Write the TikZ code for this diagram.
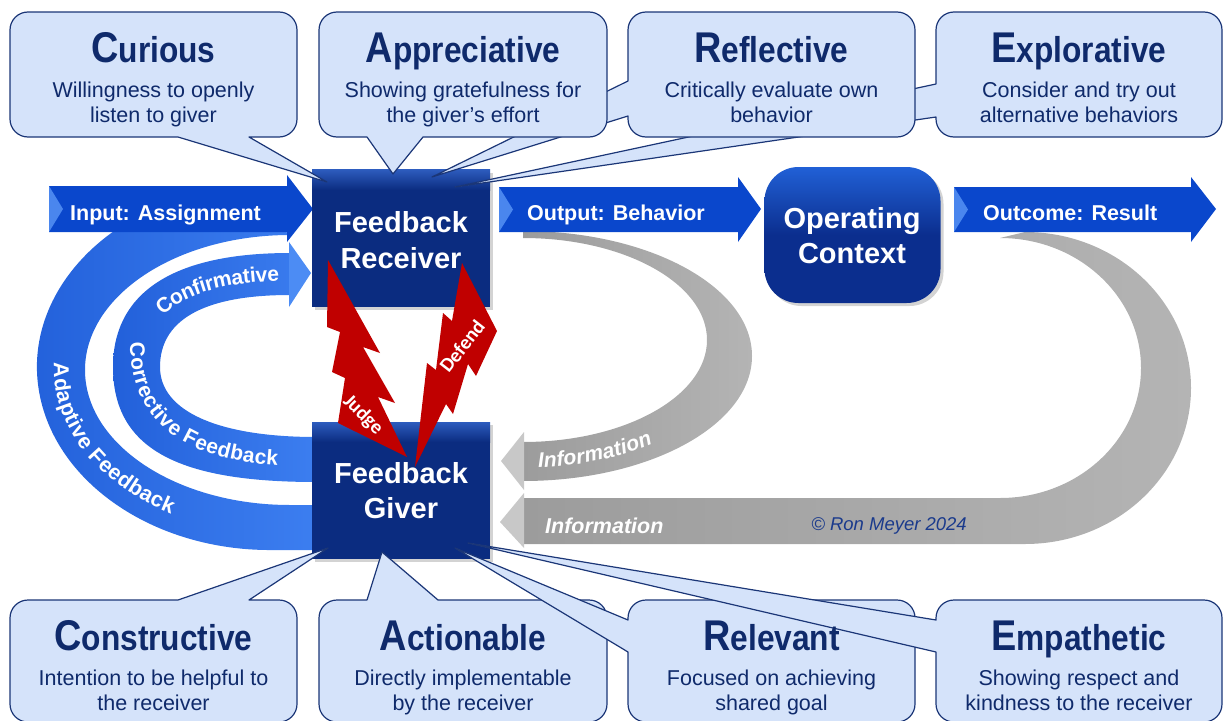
\documentclass[tikz,border=0pt]{standalone}
\usepackage{fontspec}
\setmainfont{Liberation Sans}
\newfontfamily\headfont[FakeStretch=0.88]{Liberation Sans}
\newfontfamily\boltfont{Carlito}
\usetikzlibrary{decorations.text,shadows}

\definecolor{boxnavy}{HTML}{0B2C80}
\definecolor{boxrim}{HTML}{2D5CBE}
\definecolor{ctxtop}{HTML}{2160D6}
\definecolor{ctxmid}{HTML}{0B2E8E}
\definecolor{calfill}{HTML}{D5E3FA}
\definecolor{calline}{HTML}{1B3677}
\definecolor{caltext}{HTML}{0F2A6B}
\definecolor{arrowblue}{HTML}{0A47CC}
\definecolor{arrowbevel}{HTML}{4A86EE}
\definecolor{banddark}{HTML}{2260DA}
\definecolor{bandlight}{HTML}{3C7EF0}
\definecolor{bandhead}{HTML}{4C8CF4}
\definecolor{boltred}{HTML}{C00000}
\definecolor{graydark}{HTML}{9C9C9C}
\definecolor{graylight}{HTML}{B4B4B4}
\definecolor{headgray}{HTML}{C8C8C8}
\definecolor{copyblue}{HTML}{1A3A8C}

% large initial followed by the rest of the word
\newcommand\heading[2]{{\headfont\bfseries\fontsize{43}{43}\selectfont #1\fontsize{36}{36}\selectfont #2}}

% rounded callout: #1 left, #2 top, #3 right, #4 bottom;
% #5 tail on the top edge, #6 tail on the bottom edge, #7 tail on the left edge
\newcommand\callbox[7]{%
  \path[callout] ({#1+18},#2) #5 -- ({#3-18},#2)
    arc[start angle=-90,end angle=0,radius=18] -- (#3,{#4-18})
    arc[start angle=0,end angle=90,radius=18] #6 -- ({#1+18},#4)
    arc[start angle=90,end angle=180,radius=18] #7 -- (#1,{#2+18})
    arc[start angle=180,end angle=270,radius=18] -- cycle;}

\begin{document}
\begin{tikzpicture}[x=1pt,y=-1pt,
  callout/.style={fill=calfill,draw=calline,line width=1.2pt,line join=round},
  headtxt/.style={text=caltext,anchor=base,inner sep=0pt},
  bodytxt/.style={text=caltext,anchor=base,inner sep=0pt,font=\fontsize{21.5}{21.5}\selectfont},
  arrowtxt/.style={text=white,anchor=base west,inner sep=0pt,font=\bfseries\fontsize{21.5}{21.5}\selectfont},
  boxtxt/.style={text=white,anchor=base,inner sep=0pt,font=\bfseries\fontsize{29}{29}\selectfont},
  fbbox/.style={fill=boxnavy,minimum width=178pt,minimum height=137pt,inner sep=0pt,
     drop shadow={shadow xshift=3pt,shadow yshift=-3pt,opacity=0.35}},
  ctxbox/.style={top color=ctxtop,bottom color=ctxmid,middle color=ctxmid,rounded corners=34pt,
     minimum width=176pt,minimum height=136pt,inner sep=0pt,
     drop shadow={shadow xshift=3pt,shadow yshift=-3pt,opacity=0.35}},
  bluearrow/.style={fill=arrowblue},
  bevel/.style={fill=arrowbevel},
  band/.style={left color=banddark,right color=bandlight},
  grayband/.style={left color=graydark,right color=graylight},
  grayhead/.style={fill=headgray},
  bolt/.style={fill=boltred},
  bolttxt/.style={text=white,inner sep=0pt,font=\boltfont\bfseries\fontsize{20}{20}\selectfont},
  infotxt/.style={text=white,inner sep=0pt,font=\bfseries\itshape\fontsize{21.5}{21.5}\selectfont},
]
\useasboundingbox (0,0) rectangle (1223,720);

% ---- feedback loops on the left
\path[band] (229.5,186.8) arc[start angle=260,end angle=90,x radius=233,y radius=183]
  -- (318,550) -- (318,505) -- (290,505)
  arc[start angle=90,end angle=270,x radius=205,y radius=135] -- cycle;
\path[band] (290,253) .. controls (165,253) and (113,298) .. (113,367)
  .. controls (113,450) and (180,482) .. (316,482) -- (316,437)
  .. controls (220,437) and (160,412) .. (160,367)
  .. controls (160,322) and (200,295) .. (290,295) -- cycle;
\path[fill=bandhead] (289,242) -- (311,273) -- (289,307) -- cycle;

% ---- information loops on the right
\path[grayband] (523,231) arc[start angle=270,end angle=450,x radius=229,y radius=125]
  -- (523,442) arc[start angle=90,end angle=-90,x radius=184,y radius=102] -- cycle;
\path[grayhead] (524,432) -- (501,461) -- (524,490) -- cycle;
\path[grayband] (1025,232) arc[start angle=270,end angle=450,x radius=166,y radius=156]
  -- (523,544) -- (523,498) -- (1000,498)
  arc[start angle=90,end angle=-90,x radius=141,y radius=130] -- cycle;
\path[grayhead] (524,493) -- (500,522) -- (524,548) -- cycle;

% ---- main flow arrows
\path[bluearrow] (49,186) -- (287,186) -- (287,175) -- (313,209) -- (287,242) -- (287,232) -- (49,232) -- cycle;
\path[bevel] (49,186) -- (63,209) -- (49,232) -- cycle;
\path[bluearrow] (499,187) -- (738,187) -- (738,177) -- (761,209) -- (738,242) -- (738,232) -- (499,232) -- cycle;
\path[bevel] (499,187) -- (513,209.5) -- (499,232) -- cycle;
\path[bluearrow] (954,187) -- (1191,187) -- (1191,177) -- (1216,209) -- (1191,242) -- (1191,232) -- (954,232) -- cycle;
\path[bevel] (954,187) -- (968,209.5) -- (954,232) -- cycle;

\node[arrowtxt] (inlbl) at (70,220) {Input: Assignment};
\node[arrowtxt] (outlbl) at (527,220) {Output: Behavior};
\node[arrowtxt] (reslbl) at (983,220) {Outcome: Result};

% ---- boxes
\node[fbbox] (receiver) at (401,238) {};
\fill[top color=boxrim,bottom color=boxnavy] (312,169.5) rectangle (490,190);
\node[fbbox] (giver) at (401,490.5) {};
\fill[top color=boxrim,bottom color=boxnavy] (312,422) rectangle (490,442);
\node[ctxbox] (context) at (852.5,235) {};

\node[boxtxt] (recvA) at (401,232) {Feedback};
\node[boxtxt] (recvB) at (401,268) {Receiver};
\node[boxtxt] (giverA) at (401,483) {Feedback};
\node[boxtxt] (giverB) at (401,518) {Giver};
\node[boxtxt] (ctxA) at (852,228) {Operating};
\node[boxtxt] (ctxB) at (852,263) {Context};

% ---- texts on the loops
\path[decorate,decoration={text along path,
    text={|\bfseries\fontsize{21.5}{21.5}\selectfont|Adaptive Feedback},
    text color=white,text align={left indent=8pt},raise=-7pt}]
  (61.8,354.6) arc[start angle=185,end angle=100,x radius=219,y radius=159];
\path[decorate,decoration={text along path,
    text={|\bfseries\fontsize{21}{21}\selectfont|Confirmative},
    text color=white,text align={right,right indent=11pt},raise=-7pt}]
  (136.5,367) .. controls (136.5,307.5) and (185,274) .. (290,274);
\path[decorate,decoration={text along path,
    text={|\bfseries\fontsize{21}{21}\selectfont|Corrective Feedback},
    text color=white,text align={left indent=4pt},raise=-7pt}]
  (137,338) .. controls (135,425) and (195,459.5) .. (312,459.5);
\path[decorate,decoration={text along path,
    text={|\bfseries\itshape\fontsize{21}{21}\selectfont|Information},
    text color=white,text align={left indent=33pt},raise=-7pt}]
  (505,460.6) arc[start angle=95,end angle=40,x radius=206.5,y radius=113.5];
\node[infotxt,anchor=base west] (info) at (545,533) {Information};
\node[anchor=base east,inner sep=0pt,text=copyblue,font=\itshape\fontsize{18.5}{18.5}\selectfont] (copy) at (967,530) {© Ron Meyer 2024};

% ---- judge / defend bolts
\path[bolt] (328,260) -- (380,353) -- (363,347) -- (395,403) -- (378,397) -- (407,457)
  -- (338,423) -- (345,378) -- (332,372) -- (340,332) -- (327,327) -- cycle;
\path[bolt] (462,263) -- (497,331) -- (476,376) -- (468,364) -- (453,414) -- (446,404)
  -- (415,467) -- (427,363) -- (436,370) -- (443,313) -- (452,321) -- cycle;
\node[bolttxt,rotate=-45] (judge) at (363,415) {Judge};
\node[bolttxt,rotate=52] (defend) at (462,346) {Defend};

% ---- callouts above (drawn right to left)
\callbox{936}{12}{1222}{137}{}{}{-- (936,117) -- (455,187) -- (936,84)}
\callbox{628}{12}{915}{137}{}{}{-- (628,116) -- (432,177) -- (628,81)}
\callbox{319}{12}{607}{137}{}{-- (423,137) -- (393,174) -- (367,137)}{}
\callbox{10}{12}{297}{137}{}{-- (249,137) -- (327,182) -- (178,137)}{}

\node[headtxt] (curH) at (153.5,62) {\heading{C}{urious}};
\node[bodytxt] (curA) at (153.5,97) {Willingness to openly};
\node[bodytxt] (curB) at (153.5,122) {listen to giver};
\node[headtxt] (appH) at (463,62) {\heading{A}{ppreciative}};
\node[bodytxt] (appA) at (463,97) {Showing gratefulness for};
\node[bodytxt] (appB) at (463,122) {the giver’s effort};
\node[headtxt] (refH) at (771.5,62) {\heading{R}{eflective}};
\node[bodytxt] (refA) at (771.5,97) {Critically evaluate own};
\node[bodytxt] (refB) at (771.5,122) {behavior};
\node[headtxt] (expH) at (1079,62) {\heading{E}{xplorative}};
\node[bodytxt] (expA) at (1079,97) {Consider and try out};
\node[bodytxt] (expB) at (1079,122) {alternative behaviors};

% ---- callouts below (drawn left to right)
\callbox{10}{600}{297}{722}{-- (178,600) -- (328,548) -- (249,600)}{}{}
\callbox{319}{600}{607}{722}{-- (367,600) -- (382,552) -- (438,600)}{}{}
\callbox{628}{600}{915}{722}{}{}{-- (628,652) -- (455,548) -- (628,620)}
\callbox{936}{600}{1222}{722}{}{}{-- (936,652) -- (468,543) -- (936,620)}

\node[headtxt] (conH) at (153.5,650) {\heading{C}{onstructive}};
\node[bodytxt] (conA) at (153.5,685) {Intention to be helpful to};
\node[bodytxt] (conB) at (153.5,710) {the receiver};
\node[headtxt] (actH) at (463,650) {\heading{A}{ctionable}};
\node[bodytxt] (actA) at (463,685) {Directly implementable};
\node[bodytxt] (actB) at (463,710) {by the receiver};
\node[headtxt] (relH) at (771.5,650) {\heading{R}{elevant}};
\node[bodytxt] (relA) at (771.5,685) {Focused on achieving};
\node[bodytxt] (relB) at (771.5,710) {shared goal};
\node[headtxt] (empH) at (1079,650) {\heading{E}{mpathetic}};
\node[bodytxt] (empA) at (1079,685) {Showing respect and};
\node[bodytxt] (empB) at (1079,710) {kindness to the receiver};
\end{tikzpicture}
\end{document}
